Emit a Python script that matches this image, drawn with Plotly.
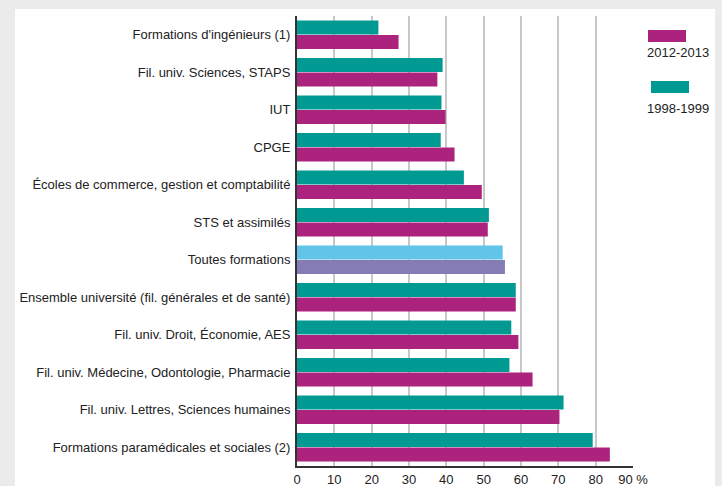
import plotly.graph_objects as go

categories = [
    "Formations d'ingénieurs (1)",
    "Fil. univ. Sciences, STAPS",
    "IUT",
    "CPGE",
    "Écoles de commerce, gestion et comptabilité",
    "STS et assimilés",
    "Toutes formations",
    "Ensemble université (fil. générales et de santé)",
    "Fil. univ. Droit, Économie, AES",
    "Fil. univ. Médecine, Odontologie, Pharmacie",
    "Fil. univ. Lettres, Sciences humaines",
    "Formations paramédicales et sociales (2)",
]
values_1998 = [21.8, 39.0, 38.7, 38.5, 44.7, 51.4, 55.1, 58.6, 57.4, 56.9, 71.4, 79.2]
values_2012 = [27.2, 37.6, 39.8, 42.2, 49.5, 51.1, 55.7, 58.6, 59.3, 63.1, 70.3, 83.8]
tick_values = [0, 10, 20, 30, 40, 50, 60, 70, 80, 90]
tick_labels = ["0", "10", "20", "30", "40", "50", "60", "70", "80", "90 %"]
legend_labels = ["2012-2013", "1998-1999"]

TEAL = "#009a93"
MAGENTA = "#ab237c"
LIGHTBLUE = "#60c5e8"
VIOLET = "#857cb6"

col_1998 = [LIGHTBLUE if c == "Toutes formations" else TEAL for c in categories]
col_2012 = [VIOLET if c == "Toutes formations" else MAGENTA for c in categories]

fig = go.Figure()
fig.add_trace(go.Bar(y=categories, x=values_1998, orientation="h",
                     marker=dict(color=col_1998, line=dict(width=0)),
                     name=legend_labels[1], showlegend=False))
fig.add_trace(go.Bar(y=categories, x=values_2012, orientation="h",
                     marker=dict(color=col_2012, line=dict(width=0)),
                     name=legend_labels[0], showlegend=False))

L, R, T, B = 297, 633, 16, 466
W, H = R - L, B - T
def px(x): return (x - L) / W
def py(y): return (B - y) / H

shapes = [
    dict(type="rect", xref="paper", yref="paper", x0=px(15), x1=px(715), y0=py(9), y1=py(490),
         fillcolor="white", line=dict(width=0), layer="below"),
    dict(type="rect", xref="paper", yref="paper", x0=px(648), x1=px(686), y0=py(42), y1=py(30),
         fillcolor=MAGENTA, line=dict(width=0)),
    dict(type="rect", xref="paper", yref="paper", x0=px(651), x1=px(689), y0=py(93), y1=py(81),
         fillcolor=TEAL, line=dict(width=0)),
]
annotations = [
    dict(xref="paper", yref="paper", x=px(678), y=py(53), text=legend_labels[0], showarrow=False,
         xanchor="center", yanchor="middle", font=dict(size=13, color="#222")),
    dict(xref="paper", yref="paper", x=px(678), y=py(108), text=legend_labels[1], showarrow=False,
         xanchor="center", yanchor="middle", font=dict(size=13, color="#222")),
]

fig.update_layout(
    width=722, height=486,
    margin=dict(l=L, r=722 - R, t=T, b=486 - B, pad=0, autoexpand=False),
    paper_bgcolor="#ebebeb",
    plot_bgcolor="rgba(0,0,0,0)",
    barmode="group",
    bargap=0.22,
    bargroupgap=0.05,
    font=dict(family="Liberation Sans, Arial, sans-serif", size=13, color="#222"),
    shapes=shapes,
    annotations=annotations,
    xaxis=dict(range=[0, 90], tickvals=tick_values, ticktext=tick_labels, automargin=False,
               showgrid=True, gridcolor="#c8c8c8", gridwidth=1.5,
               zeroline=False, showline=True, linecolor="#333", linewidth=1.5,
               ticks="", ticklabelstandoff=1, tickfont=dict(size=13, color="#222"), fixedrange=True),
    yaxis=dict(autorange="reversed", showgrid=False, zeroline=False, automargin=False,
               showline=True, linecolor="#333", linewidth=2,
               ticks="", ticklabelstandoff=2, tickfont=dict(size=13, color="#222")),
)

fig.write_html("out.html", config={"displayModeBar": False},
               post_script="document.body.style.margin='0';document.body.style.overflow='hidden';")
